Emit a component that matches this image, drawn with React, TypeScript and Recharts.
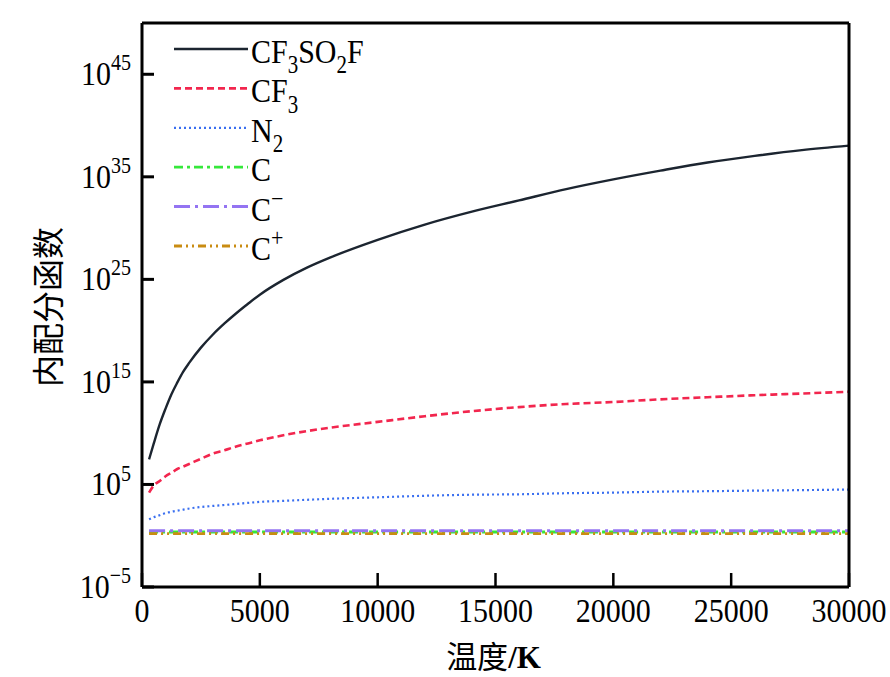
import React from 'react';
import { LineChart, Line, XAxis, YAxis, Legend } from 'recharts';

// Temperature grid (K)
const temperatures = [300, 500, 750, 1000, 1250, 1500, 1750, 2000, 2500, 3000, 3500, 4000, 4500, 5000, 6000, 7000, 8000, 10000, 12000, 14000, 16000, 18000, 20000, 22000, 24000, 26000, 28000, 30000];

// Internal partition functions
const cf3so2f = [2.8e7, 1e9, 7.1e10, 2.5e12, 6.3e13, 8.9e14, 1e16, 7.1e16, 2.2e18, 4e19, 5e20, 5e21, 4.2e22, 3.2e23, 8.9e24, 1.4e26, 1.4e27, 7.1e28, 2.2e30, 4e31, 5e32, 6.3e33, 5.6e34, 4e35, 2.5e36, 1.1e37, 4e37, 1.1e38];
const cf3 = [1.6e4, 8e4, 2.2e5, 6.3e5, 1.4e6, 3.2e6, 5.6e6, 1e7, 3.2e7, 1e8, 2.2e8, 5e8, 1e9, 2e9, 6.3e9, 1.6e10, 3.5e10, 1.26e11, 4.5e11, 1.4e12, 3.5e12, 7e12, 1.1e13, 2e13, 3.2e13, 5e13, 7.4e13, 1.1e14];
const n2 = [40, 63, 100, 160, 220, 280, 350, 450, 630, 800, 1000, 1260, 1600, 2000, 2500, 3200, 4000, 5600, 7900, 1e4, 1.1e4, 1.4e4, 1.6e4, 2e4, 2.2e4, 2.5e4, 2.8e4, 3.2e4];
const cAtom = [2.3, 2.3, 2.3, 2.3, 2.3, 2.3, 2.3, 2.3, 2.3, 2.3, 2.3, 2.3, 2.3, 2.3, 2.3, 2.3, 2.3, 2.3, 2.3, 2.3, 2.3, 2.3, 2.3, 2.3, 2.3, 2.3, 2.3, 2.3];
const cMinus = [3.1, 3.1, 3.1, 3.1, 3.1, 3.1, 3.1, 3.1, 3.1, 3.1, 3.1, 3.1, 3.1, 3.1, 3.1, 3.1, 3.1, 3.1, 3.1, 3.1, 3.1, 3.1, 3.1, 3.1, 3.1, 3.1, 3.1, 3.1];
const cPlus = [1.6, 1.6, 1.6, 1.6, 1.6, 1.6, 1.6, 1.6, 1.6, 1.6, 1.6, 1.6, 1.6, 1.6, 1.6, 1.6, 1.6, 1.6, 1.6, 1.6, 1.6, 1.6, 1.6, 1.6, 1.6, 1.6, 1.6, 1.6];

const xTicks = [0, 5000, 10000, 15000, 20000, 25000, 30000];
const xTickLabels = ['0', '5000', '10000', '15000', '20000', '25000', '30000'];
const yTicks = [1e-5, 1e5, 1e15, 1e25, 1e35, 1e45];
const yTickExponents = ['\u22125', '5', '15', '25', '35', '45'];

const data = temperatures.map((T, i) => ({
  T,
  cf3so2f: cf3so2f[i],
  cf3: cf3[i],
  n2: n2[i],
  c: cAtom[i],
  cm: cMinus[i],
  cp: cPlus[i],
}));

const SERIF = '"Liberation Serif", "Times New Roman", serif';
const CJK = '"Noto Sans CJK SC", "Noto Sans", sans-serif';
const STRETCH = 1.15;

const series = [
  { key: 'cf3so2f', color: '#1c2530', width: 2.4, dash: undefined as string | undefined },
  { key: 'cf3', color: '#f2264e', width: 2.6, dash: '7 4' },
  { key: 'n2', color: '#3a6ff0', width: 2.2, dash: '2 3' },
  { key: 'c', color: '#35e83a', width: 2.8, dash: '9 4 3 4' },
  { key: 'cm', color: '#9474f2', width: 3, dash: '16 5 3 5' },
  { key: 'cp', color: '#c98c12', width: 2.8, dash: '8 4 2 4 2 4' },
];

const YTick = (props: any) => {
  const { x, y, index } = props;
  return (
    <g>
      <line x1={x} x2={x + 12} y1={y} y2={y} stroke="#000" strokeWidth={3} />
      <text
        transform={`translate(${x - 11},${y + 11}) scale(1,${STRETCH})`}
        x={0}
        y={0}
        textAnchor="end"
        fontFamily={SERIF}
        fontSize={30}
        fill="#000"
      >
        <tspan>10</tspan>
        <tspan dy={-13} fontSize={20}>{yTickExponents[index]}</tspan>
      </text>
    </g>
  );
};

const XTick = (props: any) => {
  const { x, y, index } = props;
  return (
    <g>
      <line x1={x} x2={x} y1={y} y2={y - 14} stroke="#000" strokeWidth={2.5} />
      <text
        transform={`translate(${x},${y + 35}) scale(1,${STRETCH})`}
        x={0}
        y={0}
        textAnchor="middle"
        fontFamily={SERIF}
        fontSize={30}
        fill="#000"
      >
        {xTickLabels[index]}
      </text>
    </g>
  );
};

const legendLabel = (key: string) => {
  switch (key) {
    case 'cf3so2f':
      return (
        <>
          <tspan>CF</tspan>
          <tspan dy={9} fontSize={21}>3</tspan>
          <tspan dy={-9}>SO</tspan>
          <tspan dy={9} fontSize={21}>2</tspan>
          <tspan dy={-9}>F</tspan>
        </>
      );
    case 'cf3':
      return (
        <>
          <tspan>CF</tspan>
          <tspan dy={9} fontSize={21}>3</tspan>
        </>
      );
    case 'n2':
      return (
        <>
          <tspan>N</tspan>
          <tspan dy={9} fontSize={21}>2</tspan>
        </>
      );
    case 'c':
      return <tspan>C</tspan>;
    case 'cm':
      return (
        <>
          <tspan>C</tspan>
          <tspan dy={-12} fontSize={22}>{'\u2212'}</tspan>
        </>
      );
    default:
      return (
        <>
          <tspan>C</tspan>
          <tspan dy={-12} fontSize={22}>+</tspan>
        </>
      );
  }
};

const renderLegend = () => (
  <svg width={420} height={280} style={{ display: 'block' }}>
    {series.map((s, i) => {
      const y = 49 + i * 39.4;
      return (
        <g key={s.key}>
          <line x1={174} x2={248} y1={y} y2={y} stroke={s.color} strokeWidth={s.width} strokeDasharray={s.dash} />
          <text
            transform={`translate(251,${y + 14}) scale(1,${STRETCH})`}
            x={0}
            y={0}
            fontFamily={SERIF}
            fontSize={30}
            fill="#000"
          >
            {legendLabel(s.key)}
          </text>
        </g>
      );
    })}
  </svg>
);

const YTitle = (props: any) => {
  const vb = props.viewBox || { x: 42, y: 23, width: 100, height: 564 };
  const cx = vb.x + 18;
  const cy = vb.y + vb.height / 2 + 2;
  return (
    <text x={cx} y={cy} transform={`rotate(-90 ${cx} ${cy})`} textAnchor="middle" fontFamily={CJK} fontSize={32} fill="#000">
      内配分函数
    </text>
  );
};

const XTitle = (props: any) => {
  const vb = props.viewBox || { x: 142, y: 587, width: 707, height: 60 };
  const cx = vb.x + vb.width / 2 - 2;
  const cy = vb.y + 81;
  return (
    <text x={cx} y={cy} textAnchor="middle" fill="#000" fontSize={31}>
      <tspan fontFamily={CJK}>温度</tspan>
      <tspan fontFamily={SERIF} fontWeight="bold">/K</tspan>
    </text>
  );
};

export default function App() {
  return (
    <div style={{ position: 'absolute', left: 0, top: 0, width: 890, height: 677, background: '#fff' }}>
      <LineChart width={890} height={677} data={data} margin={{ top: 22, right: 40, bottom: 30, left: 42 }}>
        <XAxis
          xAxisId="main"
          dataKey="T"
          type="number"
          domain={[0, 30000]}
          ticks={xTicks}
          interval={0}
          height={60}
          tickSize={0}
          tickMargin={0}
          tickLine={false}
          axisLine={{ stroke: '#000', strokeWidth: 3 }}
          tick={<XTick />}
          label={<XTitle />}
        />
        <XAxis
          xAxisId="top"
          orientation="top"
          dataKey="T"
          type="number"
          domain={[0, 30000]}
          height={1}
          tick={false}
          tickLine={false}
          axisLine={{ stroke: '#000', strokeWidth: 3 }}
        />
        <YAxis
          yAxisId="main"
          type="number"
          scale="log"
          domain={[1e-5, 1e50]}
          allowDataOverflow
          ticks={yTicks}
          interval={0}
          width={100}
          tickSize={0}
          tickMargin={0}
          tickLine={false}
          axisLine={{ stroke: '#000', strokeWidth: 3 }}
          tick={<YTick />}
          label={<YTitle />}
        />
        <YAxis
          yAxisId="right"
          orientation="right"
          type="number"
          scale="log"
          domain={[1e-5, 1e50]}
          allowDataOverflow
          width={1}
          tick={false}
          tickLine={false}
          axisLine={{ stroke: '#000', strokeWidth: 3 }}
        />
        <Legend
          layout="vertical"
          align="center"
          verticalAlign="middle"
          wrapperStyle={{ left: 0, top: 0, width: 420, height: 280 }}
          content={renderLegend}
        />
        <Line
          xAxisId="top"
          yAxisId="right"
          dataKey="cf3so2f"
          type="monotone"
          stroke="transparent"
          strokeWidth={0}
          dot={false}
          activeDot={false}
          legendType="none"
          isAnimationActive={false}
        />
        {series.map((s) => (
          <Line
            key={s.key}
            xAxisId="main"
            yAxisId="main"
            dataKey={s.key}
            type="monotone"
            stroke={s.color}
            strokeWidth={s.width}
            strokeDasharray={s.dash}
            dot={false}
            activeDot={false}
            isAnimationActive={false}
          />
        ))}
      </LineChart>
    </div>
  );
}
